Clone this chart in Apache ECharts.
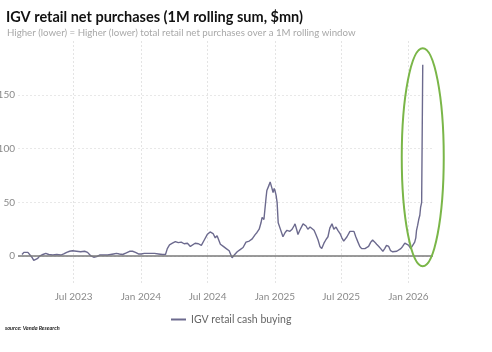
<!DOCTYPE html>
<html>
<head>
<meta charset="utf-8">
<script src="https://cdn.jsdelivr.net/npm/echarts@6/dist/echarts.min.js"></script>
<style>
  html, body { margin: 0; padding: 0; background: #fff; }
  #chart { width: 492px; height: 352px; }
</style>
</head>
<body>
<div id="chart"></div>
<script>
// IGV retail cash buying, 1M rolling sum ($mn)
const dates = [
  '2023-02-10', '2023-02-15', '2023-02-20', '2023-02-26', '2023-03-03', '2023-03-09', '2023-03-14', '2023-03-19',
  '2023-03-25', '2023-03-30', '2023-04-08', '2023-04-16', '2023-04-24', '2023-05-05', '2023-05-16', '2023-05-27',
  '2023-06-04', '2023-06-12', '2023-06-20', '2023-06-28', '2023-07-09', '2023-07-20', '2023-07-31', '2023-08-08',
  '2023-08-16', '2023-08-25', '2023-09-02', '2023-09-10', '2023-09-21', '2023-10-02', '2023-10-10', '2023-10-18',
  '2023-10-26', '2023-11-03', '2023-11-12', '2023-11-22', '2023-12-01', '2023-12-09', '2023-12-17', '2023-12-25',
  '2024-01-02', '2024-01-10', '2024-01-19', '2024-01-27', '2024-02-07', '2024-02-18', '2024-02-29', '2024-03-08',
  '2024-03-13', '2024-03-19', '2024-03-27', '2024-04-04', '2024-04-12', '2024-04-20', '2024-04-28', '2024-05-07',
  '2024-05-15', '2024-05-20', '2024-05-28', '2024-06-06', '2024-06-14', '2024-06-22', '2024-06-30', '2024-07-08',
  '2024-07-16', '2024-07-22', '2024-07-27', '2024-08-05', '2024-08-13', '2024-08-21', '2024-08-29', '2024-09-06',
  '2024-09-12', '2024-09-20', '2024-09-28', '2024-10-06', '2024-10-14', '2024-10-23', '2024-10-31', '2024-11-08',
  '2024-11-13', '2024-11-19', '2024-11-24', '2024-11-27', '2024-12-02', '2024-12-08', '2024-12-10', '2024-12-16',
  '2024-12-19', '2024-12-21', '2024-12-24', '2024-12-27', '2024-12-30', '2025-01-01', '2025-01-04', '2025-01-07',
  '2025-01-10', '2025-01-15', '2025-01-20', '2025-01-23', '2025-01-29', '2025-02-03', '2025-02-11', '2025-02-17',
  '2025-02-22', '2025-02-25', '2025-03-02', '2025-03-05', '2025-03-10', '2025-03-19', '2025-03-27', '2025-04-01',
  '2025-04-07', '2025-04-12', '2025-04-18', '2025-04-23', '2025-04-29', '2025-05-04', '2025-05-09', '2025-05-15',
  '2025-05-20', '2025-05-26', '2025-05-31', '2025-06-06', '2025-06-11', '2025-06-17', '2025-06-22', '2025-06-28',
  '2025-07-03', '2025-07-08', '2025-07-17', '2025-07-25', '2025-07-30', '2025-08-05', '2025-08-10', '2025-08-16',
  '2025-08-21', '2025-08-26', '2025-09-04', '2025-09-09', '2025-09-14', '2025-09-20', '2025-09-25', '2025-10-01',
  '2025-10-06', '2025-10-12', '2025-10-17', '2025-10-23', '2025-10-28', '2025-11-02', '2025-11-08', '2025-11-13',
  '2025-11-19', '2025-11-24', '2025-11-30', '2025-12-05', '2025-12-11', '2025-12-16', '2025-12-22', '2025-12-27',
  '2026-01-02', '2026-01-07', '2026-01-12', '2026-01-18', '2026-01-21', '2026-01-23', '2026-01-26', '2026-01-29',
  '2026-02-01', '2026-02-03', '2026-02-06', '2026-02-09'
];
const cashBuying = [
  1.5, 3.5, 3, 3.5, 2, -1, -4, -5,
  -2, 0, 1.5, 2.5, 1.5, 1, 1.5, 1,
  2, 3.5, 4.5, 5, 4.5, 4, 4.5, 3.5,
  0.5, -1, -0.5, 1, 1, 1, 1.5, 2,
  2.5, 2, 1.5, 3, 4.5, 4.5, 3.5, 2,
  2, 2.5, 2.5, 2.5, 2.5, 2, 1.5, 1.5,
  7, 10.5, 12, 13.5, 12.5, 13, 11.5, 12,
  9, 8, 12, 11.5, 10, 15, 20, 22.5,
  21, 17, 19, 11, 9, 7, 5, -1.5,
  1, 4, 6, 8, 13, 14, 16, 20,
  22, 25, 31, 36, 34, 55, 61, 66,
  69, 68, 63, 59, 63, 61, 57, 50,
  31, 26, 21, 18, 22, 24, 23, 25,
  28, 30, 24, 20, 24, 30, 28, 25,
  27, 28, 24, 20, 15, 9, 7, 12,
  15, 18, 26, 30, 25, 27, 24, 21,
  17, 14, 18, 23, 22, 23, 18, 13,
  9, 7, 7, 6, 9, 13, 15, 13,
  11, 9, 7, 4.5, 7, 10, 9, 5,
  4, 4, 4.5, 6, 7, 9, 12, 13,
  10, 7, 8, 13, 17, 24, 28.5, 34,
  38, 45, 50, 178
];
const xTicks = ['2023-07-01', '2024-01-01', '2024-07-01', '2025-01-01', '2025-07-01', '2026-01-01'];
const yTicks = [0, 50, 100, 150];
const monthNames = ['Jan', 'Feb', 'Mar', 'Apr', 'May', 'Jun', 'Jul', 'Aug', 'Sep', 'Oct', 'Nov', 'Dec'];

const toMs = s => Date.parse(s + 'T00:00:00Z');
const xTickMs = xTicks.map(toMs);

const chart = echarts.init(document.getElementById('chart'));
const font = 'Lato, "Open Sans", sans-serif';

chart.setOption({
  animation: false,
  backgroundColor: '#fff',
  textStyle: { fontFamily: font },
  title: [
    {
      text: 'IGV retail net purchases (1M rolling sum, $mn)',
      left: 1,
      top: 5,
      textStyle: { fontSize: 14.5, fontWeight: 'bold', color: '#111', fontFamily: font }
    },
    {
      text: 'Higher (lower) = Higher (lower) total retail net purchases over a 1M rolling window',
      left: 2,
      top: 23,
      textStyle: { fontSize: 9.7, fontWeight: 'normal', color: '#a8a8a8', fontFamily: font }
    },
    {
      text: 'source: Vanda Research',
      left: 0,
      top: 320,
      textStyle: { fontSize: 5.5, fontWeight: 'bold', fontStyle: 'italic', color: '#222', fontFamily: font }
    }
  ],
  legend: {
    data: ['IGV retail cash buying'],
    left: 166,
    top: 309,
    itemWidth: 15,
    itemHeight: 2,
    itemGap: 6,
    icon: 'rect',
    textStyle: { fontSize: 10.5, color: '#666', fontFamily: font }
  },
  grid: { left: 18, right: 59, top: 41, bottom: 69, outerBoundsMode: 'none' },
  xAxis: {
    type: 'value',
    min: toMs('2023-01-30'),
    max: toMs('2026-03-09'),
    axisLine: { show: false },
    axisTick: { show: false, customValues: xTickMs },
    axisLabel: {
      customValues: xTickMs,
      color: '#8a8a8a',
      fontSize: 10,
      margin: 9,
      formatter: v => {
        const d = new Date(v);
        return monthNames[d.getUTCMonth()] + ' ' + d.getUTCFullYear();
      }
    },
    splitLine: { show: true, lineStyle: { color: '#e4e4e4', type: [2, 2], width: 1 } }
  },
  yAxis: {
    type: 'value',
    min: -25,
    max: 200,
    axisLine: { show: false },
    axisTick: { show: false, customValues: yTicks },
    axisLabel: { customValues: yTicks, color: '#8a8a8a', fontSize: 10, margin: 3 },
    splitLine: { show: true, lineStyle: { color: '#e8e8e8', type: [2, 2], width: 1 } }
  },
  series: [
    {
      name: 'IGV retail cash buying',
      type: 'line',
      data: dates.map((d, i) => [toMs(d), cashBuying[i]]),
      showSymbol: false,
      lineStyle: { color: '#6c6a8e', width: 1.4 },
      itemStyle: { color: '#6c6a8e' },
      markLine: {
        silent: true,
        symbol: 'none',
        label: { show: false },
        lineStyle: { color: '#7a7a7a', type: 'solid', width: 1.5 },
        data: [{ yAxis: 0 }]
      },
      z: 3
    }
  ]
});

// green ellipse highlighting the spike, centred on the last observation
const centre = chart.convertToPixel({ gridIndex: 0 }, [toMs(dates[dates.length - 1]), 92]);
chart.setOption({
  graphic: [{
    type: 'ellipse',
    shape: { cx: centre[0], cy: centre[1], rx: 21, ry: 109 },
    style: { fill: 'none', stroke: '#7ab648', lineWidth: 2 },
    z: 10
  }]
});
</script>
</body>
</html>
